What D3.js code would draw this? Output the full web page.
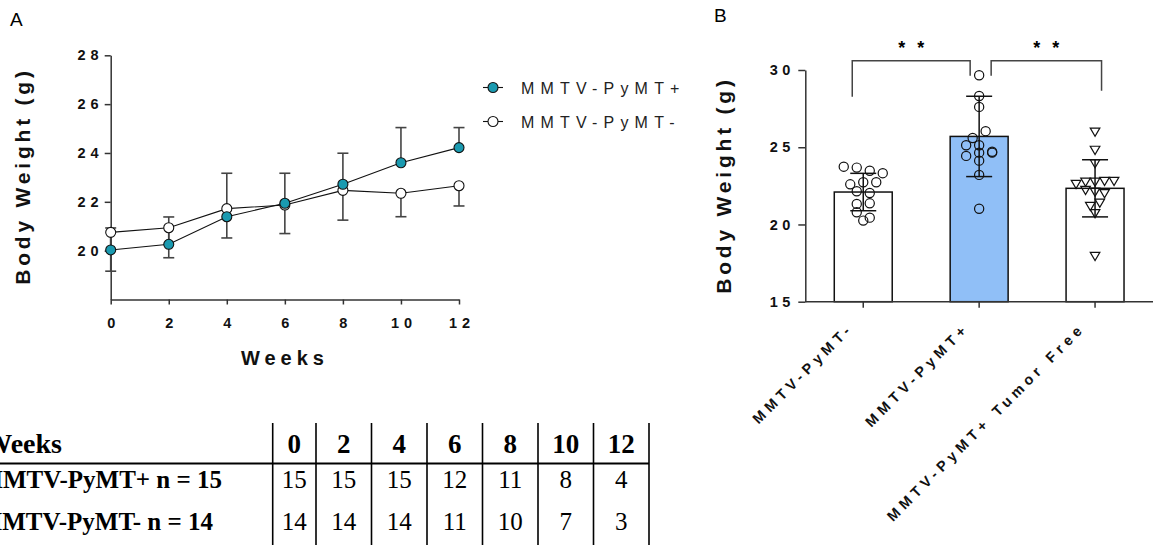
<!DOCTYPE html>
<html>
<head>
<meta charset="utf-8">
<script src="https://cdn.jsdelivr.net/npm/d3@7"></script>
<style>
  body { margin: 0; background: #fff; }
  svg { display: block; }
  .sans { font-family: "Liberation Sans", Arial, sans-serif; }
  .serif { font-family: "Liberation Serif", "Times New Roman", serif; }
</style>
</head>
<body>
<div id="chart"></div>
<script>
// ---- data ----
const weeks = [0, 2, 4, 6, 8, 10, 12];
const posMean = [20.03, 20.26, 21.39, 21.94, 22.72, 23.60, 24.22];   // MMTV-PyMT+
const posErr = [0.90, 1.12, 1.78, 1.23, 1.27, 1.44, 0.82];         // shown above
const negMean = [20.75, 20.94, 21.72, 21.87, 22.47, 22.35, 22.66];   // MMTV-PyMT-
const negErr = [1.59, 1.23, 1.20, 1.17, 1.22, 0.96, 0.83];         // shown below

const groups = ["MMTV-PyMT-", "MMTV-PyMT+", "MMTV-PyMT+ Tumor Free"];
const barMean = [22.10, 25.70, 22.34];
const barSD = [1.21, 2.60, 1.85];
const negPoints = [23.74, 23.48, 23.68, 23.32, 22.73, 22.60, 22.73, 22.15, 22.04, 21.37, 21.33, 20.79, 20.44, 20.25];
const posPoints = [29.66, 28.32, 27.61, 26.04, 25.60, 25.13, 25.13, 24.65, 24.71, 24.65, 24.44, 24.13, 23.21, 21.02];
const freePoints = [26.01, 24.83, 23.96, 22.77, 22.82, 22.82, 22.62, 22.77, 22.23, 22.02, 22.12, 21.20, 21.41, 20.73, 17.96];

const tableRows = ["MMTV-PyMT+ n = 15", "MMTV-PyMT- n = 14"];
const nPos = [15, 15, 15, 12, 11, 8, 4];
const nNeg = [14, 14, 14, 11, 10, 7, 3];

const teal = "#1a9ab0";
const barBlue = "#90bff7";
const axisCol = "#333";

const width = 1153, height = 545;
const svg = d3.select("#chart").append("svg")
    .attr("width", width)
    .attr("height", height);

// small helper: letter-spaced bold text
function spaced(sel, ls) {
    return sel.attr("class", "sans")
        .attr("font-weight", "bold")
        .attr("fill", "#111")
        .style("letter-spacing", ls + "px");
}

function styleTicks(g, size, ls) {
    g.selectAll(".tick text")
        .attr("fill", "#111")
        .attr("font-size", size)
        .attr("font-weight", "bold")
        .attr("font-family", "Liberation Sans, Arial, sans-serif")
        .style("letter-spacing", ls + "px");
}

// =================== Panel A ===================
svg.append("text").attr("class", "sans")
    .attr("x", 10).attr("y", 26)
    .attr("font-size", 19)
    .text("A");

const xA = d3.scaleLinear().domain([0, 12]).range([110.7, 459]);
const yA = d3.scaleLinear().domain([18, 28]).range([299.5, 55.3]);

const gyA = svg.append("g")
    .attr("transform", "translate(110.7,0)")
    .call(d3.axisLeft(yA).tickValues([20, 22, 24, 26, 28]).tickSize(6).tickSizeOuter(0).tickPadding(6));
const gxA = svg.append("g")
    .attr("transform", "translate(0,299.5)")
    .call(d3.axisBottom(xA).tickValues(weeks).tickSize(5).tickSizeOuter(0).tickPadding(13));

[gyA, gxA].forEach(g => {
    g.select(".domain").attr("stroke", axisCol).attr("stroke-width", 1.5);
    g.selectAll(".tick line").attr("stroke", axisCol).attr("stroke-width", 1.5);
    styleTicks(g, 14.5, 5);
});
gyA.selectAll(".tick text").attr("dx", "5px");
gxA.selectAll(".tick text").attr("dx", "2.5px");

spaced(svg.append("text"), 5)
    .attr("x", 285).attr("y", 365)
    .attr("text-anchor", "middle")
    .attr("font-size", 20)
    .text("Weeks");

spaced(svg.append("text"), 3.8)
    .attr("transform", "translate(30,176) rotate(-90)")
    .attr("text-anchor", "middle")
    .attr("font-size", 21)
    .text("Body Weight (g)");

const posData = weeks.map((w, i) => ({ w, m: posMean[i], e: posErr[i] }));
const negData = weeks.map((w, i) => ({ w, m: negMean[i], e: negErr[i] }));

// error bars: PyMT+ upward, PyMT- downward
function errBars(data, dir) {
    const g = svg.append("g").attr("stroke", "#444").attr("stroke-width", 1.6);
    data.forEach(d => {
        const y0 = yA(d.m), y1 = yA(d.m + dir * d.e);
        g.append("line").attr("x1", xA(d.w)).attr("x2", xA(d.w)).attr("y1", y0).attr("y2", y1);
        g.append("line").attr("x1", xA(d.w) - 5.5).attr("x2", xA(d.w) + 5.5).attr("y1", y1).attr("y2", y1);
    });
}
errBars(negData, -1);
errBars(posData, 1);

const line = d3.line().x(d => xA(d.w)).y(d => yA(d.m));
svg.append("path").datum(negData).attr("d", line)
    .attr("fill", "none").attr("stroke", "#111").attr("stroke-width", 1.1);
svg.append("path").datum(posData).attr("d", line)
    .attr("fill", "none").attr("stroke", "#111").attr("stroke-width", 1.1);

svg.append("g").selectAll("circle").data(negData).join("circle")
    .attr("cx", d => xA(d.w)).attr("cy", d => yA(d.m)).attr("r", 5)
    .attr("fill", "#fff").attr("stroke", "#111").attr("stroke-width", 1.1);
svg.append("g").selectAll("circle").data(posData).join("circle")
    .attr("cx", d => xA(d.w)).attr("cy", d => yA(d.m)).attr("r", 5)
    .attr("fill", teal).attr("stroke", "#111").attr("stroke-width", 1.1);

// legend
const legendItems = [
    { label: "MMTV-PyMT+", fill: teal },
    { label: "MMTV-PyMT-", fill: "#fff" }
];
const leg = svg.append("g").attr("transform", "translate(483,87.5)");
legendItems.forEach((it, i) => {
    const g = leg.append("g").attr("transform", `translate(0,${i * 34})`);
    g.append("line").attr("x1", 0).attr("x2", 20).attr("stroke", "#111").attr("stroke-width", 1.1);
    g.append("circle").attr("cx", 10).attr("r", 5).attr("fill", it.fill).attr("stroke", "#111").attr("stroke-width", 1.1);
    g.append("text").attr("class", "sans")
        .attr("x", 38).attr("y", 6)
        .attr("font-size", 16)
        .style("letter-spacing", "6.2px")
        .attr("fill", "#222")
        .text(it.label);
});

// =================== Table ===================
const colEdges = [272.7, 316];
for (let i = 1; i < weeks.length; i++) colEdges.push(colEdges[i] + 55.5);
const colCenter = weeks.map((w, i) => (colEdges[i] + colEdges[i + 1]) / 2);

const tbl = svg.append("g");
tbl.append("line").attr("x1", 0).attr("x2", colEdges[colEdges.length - 1])
    .attr("y1", 463.5).attr("y2", 463.5).attr("stroke", "#000").attr("stroke-width", 2);
colEdges.forEach(x => {
    tbl.append("line").attr("x1", x).attr("x2", x).attr("y1", 423).attr("y2", 545)
        .attr("stroke", "#000").attr("stroke-width", 1.6);
});
tbl.append("text").attr("class", "serif")
    .attr("x", 62).attr("y", 453)
    .attr("text-anchor", "end")
    .attr("font-size", 28).attr("font-weight", "bold")
    .text("Weeks");
tbl.selectAll("text.hdr").data(weeks).join("text")
    .attr("class", "serif hdr")
    .attr("x", (d, i) => colCenter[i]).attr("y", 453)
    .attr("text-anchor", "middle")
    .attr("font-size", 27).attr("font-weight", "bold")
    .text(d => d);

const rowY = [488, 530];
tableRows.forEach((lab, r) => {
    tbl.append("text").attr("class", "serif")
        .attr("x", 222 - r * 9).attr("y", rowY[r])
        .attr("text-anchor", "end")
        .attr("font-size", 25).attr("font-weight", "bold")
        .text(lab);
    const vals = r === 0 ? nPos : nNeg;
    tbl.selectAll("text.r" + r).data(vals).join("text")
        .attr("class", "serif r" + r)
        .attr("x", (d, i) => colCenter[i]).attr("y", rowY[r])
        .attr("text-anchor", "middle")
        .attr("font-size", 25)
        .text(d => d);
});

// =================== Panel B ===================
svg.append("text").attr("class", "sans")
    .attr("x", 714).attr("y", 22)
    .attr("font-size", 19)
    .text("B");

const xB = d3.scaleBand().domain(groups).range([805.3, 1153]).paddingInner(0.5).paddingOuter(0.25);
const yB = d3.scaleLinear().domain([15, 30]).range([301.7, 70]);

const barData = groups.map((g, i) => ({ g, m: barMean[i], sd: barSD[i] }));

svg.append("g").selectAll("rect").data(barData).join("rect")
    .attr("x", d => xB(d.g))
    .attr("y", d => yB(d.m))
    .attr("width", xB.bandwidth())
    .attr("height", d => yB(15) - yB(d.m))
    .attr("fill", (d, i) => i === 1 ? barBlue : "#fff")
    .attr("stroke", "#111").attr("stroke-width", 1.5);

const gyB = svg.append("g")
    .attr("transform", "translate(805.3,0)")
    .call(d3.axisLeft(yB).tickValues([15, 20, 25, 30]).tickSize(7).tickSizeOuter(0).tickPadding(8));
const gxB = svg.append("g")
    .attr("transform", "translate(0,301.7)")
    .call(d3.axisBottom(xB).tickSize(6).tickSizeOuter(0).tickFormat(""));
gxB.select(".domain").attr("d", "M805.3,0H1153");
[gyB, gxB].forEach(g => {
    g.select(".domain").attr("stroke", axisCol).attr("stroke-width", 1.5);
    g.selectAll(".tick line").attr("stroke", axisCol).attr("stroke-width", 1.5);
});
styleTicks(gyB, 14.5, 4.5);
gyB.selectAll(".tick text").attr("dx", "4.5px");

// rotated category labels
svg.append("g").selectAll("text").data(groups).join("text")
    .attr("class", "sans")
    .attr("transform", d => `translate(${xB(d) + xB.bandwidth() / 2 - 9},329) rotate(-45)`)
    .attr("text-anchor", "end")
    .attr("font-size", 14.5).attr("font-weight", "bold")
    .style("letter-spacing", "4.6px")
    .attr("fill", "#111")
    .text(d => d);

spaced(svg.append("text"), 3.8)
    .attr("transform", "translate(731,185) rotate(-90)")
    .attr("text-anchor", "middle")
    .attr("font-size", 21)
    .text("Body Weight (g)");

// error bars (SD, both directions)
const eb = svg.append("g").attr("stroke", "#111").attr("stroke-width", 1.5);
barData.forEach(d => {
    const cx = xB(d.g) + xB.bandwidth() / 2;
    eb.append("line").attr("x1", cx).attr("x2", cx).attr("y1", yB(d.m - d.sd)).attr("y2", yB(d.m + d.sd));
    [d.m - d.sd, d.m + d.sd].forEach(v => {
        eb.append("line").attr("x1", cx - 13).attr("x2", cx + 13).attr("y1", yB(v)).attr("y2", yB(v));
    });
});

// scatter layout: points close in value share a row and are spread sideways
function rowSpread(vals, cx, rowGap, spacing) {
    const sorted = vals.map(v => ({ v, y: yB(v) })).sort((a, b) => a.y - b.y);
    const rows = [];
    sorted.forEach(p => {
        const last = rows[rows.length - 1];
        if (last && p.y - last[0].y < rowGap) last.push(p);
        else rows.push([p]);
    });
    const out = [];
    rows.forEach((row, ri) => {
        const n = row.length;
        const flip = ri % 2 ? -1 : 1;
        row.forEach((p, j) => out.push({ x: cx + flip * (j - (n - 1) / 2) * spacing, y: p.y }));
    });
    return out;
}

const pointSets = [negPoints, posPoints, freePoints];
pointSets.forEach((vals, gi) => {
    const cx = xB(groups[gi]) + xB.bandwidth() / 2;
    const g = svg.append("g").attr("fill", "none").attr("stroke", "#111").attr("stroke-width", 1.2);
    if (gi < 2) {
        const pts = rowSpread(vals, cx, 7, 13);
        g.selectAll("circle").data(pts).join("circle")
            .attr("cx", d => d.x).attr("cy", d => d.y).attr("r", 4.6);
    } else {
        const pts = rowSpread(vals, cx, 7, 9.5);
        g.selectAll("path").data(pts).join("path")
            .attr("d", d => `M${d.x - 4.8},${d.y - 3.6}L${d.x + 4.8},${d.y - 3.6}L${d.x},${d.y + 4.6}Z`);
    }
});

// significance brackets
const cxs = groups.map(g => xB(g) + xB.bandwidth() / 2);
const br = svg.append("g").attr("fill", "none").attr("stroke", "#444").attr("stroke-width", 1.5);
br.append("path").attr("d", `M${cxs[0] - 11},96.7V60.7H${cxs[1] - 9}V75.7`);
br.append("path").attr("d", `M${cxs[1] + 12},75.7V60.7H${cxs[2] + 6.5}V90.7`);
[(cxs[0] - 11 + cxs[1] - 9) / 2, (cxs[1] + 12 + cxs[2] + 6.5) / 2].forEach(x => {
    svg.append("text").attr("class", "sans")
        .attr("x", x + 6).attr("y", 54)
        .attr("text-anchor", "middle")
        .attr("font-size", 18).attr("font-weight", "bold")
        .style("letter-spacing", "12px")
        .text("**");
});
</script>
</body>
</html>
